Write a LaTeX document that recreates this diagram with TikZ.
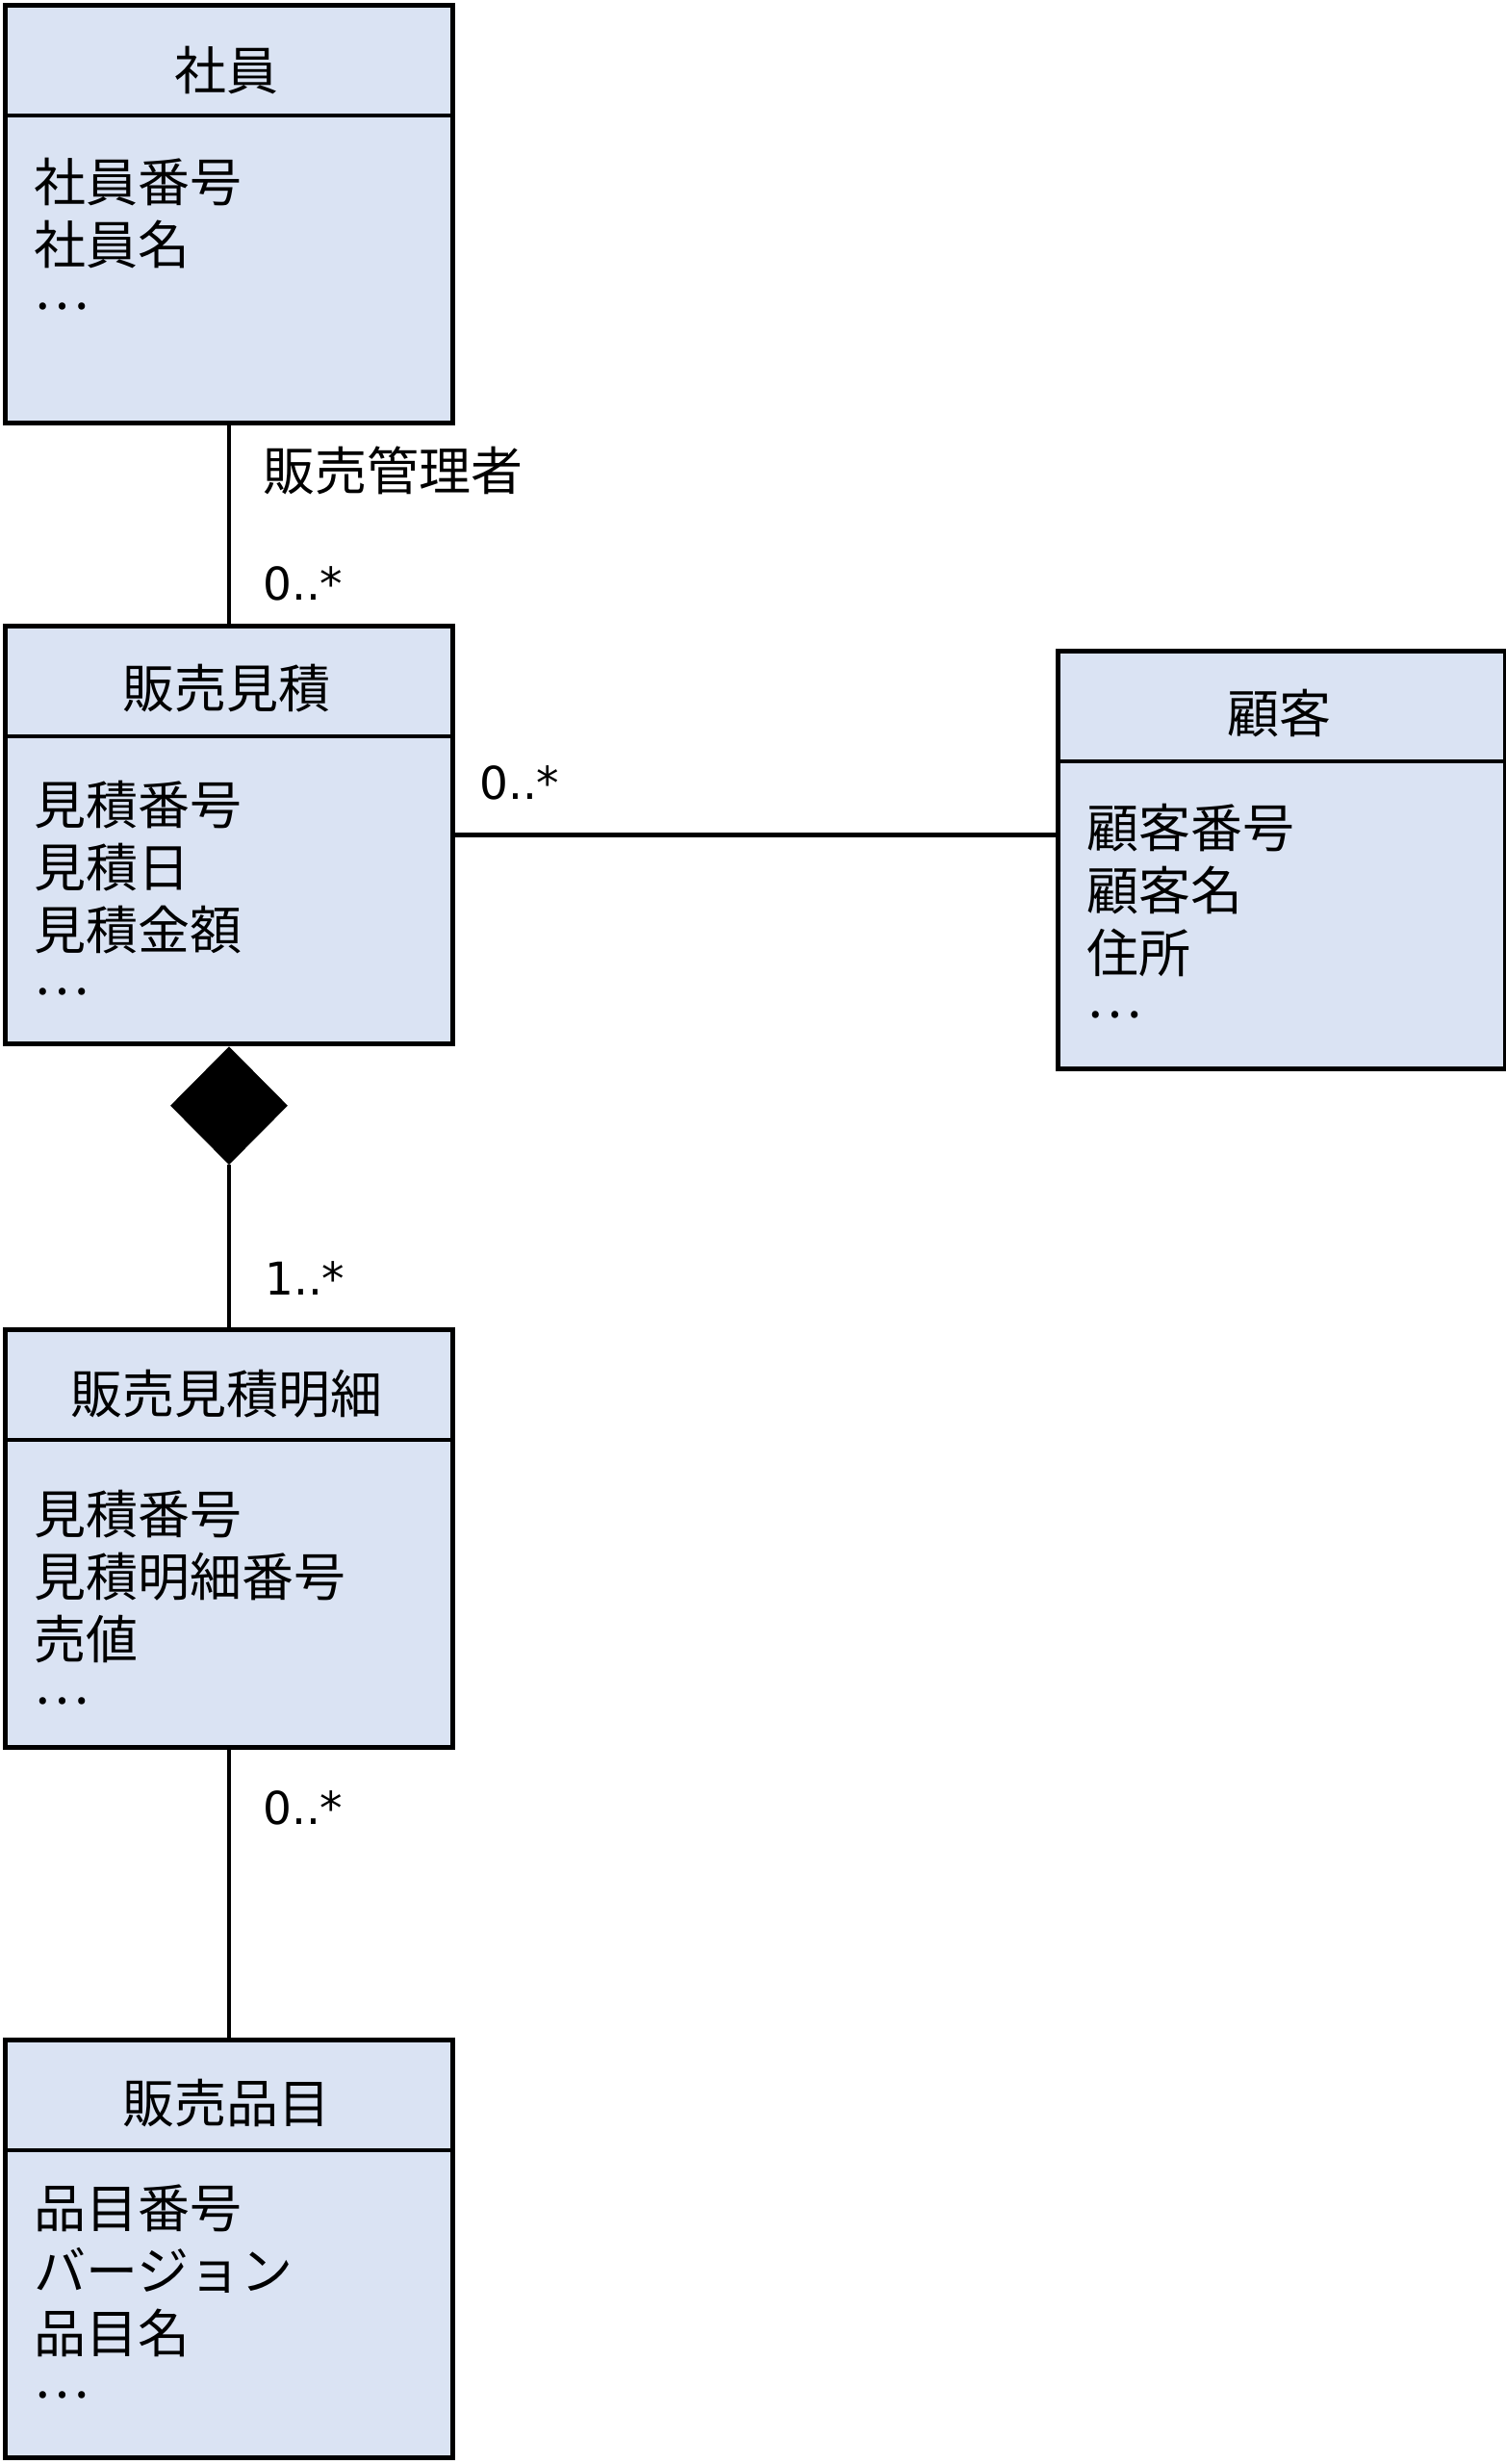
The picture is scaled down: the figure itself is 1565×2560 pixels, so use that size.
\documentclass[tikz,border=0pt]{standalone}
\usepackage{fontspec}
\setmainfont{Noto Sans CJK JP}
\newfontfamily\mulfont{DejaVu Sans}
\usetikzlibrary{shapes.geometric}
\definecolor{boxfill}{RGB}{218,227,243}
% #1 name, #2 x, #3 first baseline, #4 number of text lines, #5 lines
\newcommand\attrlist[5]{%
  \foreach \t [count=\i from 0] in {#5} {\node[attr] (#1-\i) at ({#2},{#3+65*\i}) {\t};}%
  \node[attr] (#1-dots) at ({#2},{#3+65*#4-18}) {…};%
}
\begin{document}
\begin{tikzpicture}[x=1pt,y=-1pt,
  cls/.style={rectangle, draw=black, line width=5pt, fill=boxfill, minimum width=465pt, minimum height=434pt, inner sep=0pt, anchor=north west},
  div/.style={line width=4.5pt},
  conn/.style={line width=4.5pt},
  ttl/.style={anchor=base, inner sep=0pt, font=\fontsize{54}{65}\selectfont},
  attr/.style={anchor=base west, inner sep=0pt, font=\fontsize{54}{65}\selectfont},
  mult/.style={anchor=base west, inner sep=0pt, font=\mulfont\fontsize{47}{56}\selectfont},
  lbl/.style={anchor=base west, inner sep=0pt, font=\fontsize{54}{65}\selectfont},
  comp/.style={diamond, fill=black, draw=none, inner sep=0pt, minimum width=122pt, minimum height=123pt, anchor=north}
]
\useasboundingbox (0,0) rectangle (1565,2560);

% class boxes
\node[cls] (emp) at (3,3) {};
\node[cls] (est) at (3,648) {};
\node[cls] (cust) at (1097,674) {};
\node[cls] (det) at (3,1379) {};
\node[cls] (item) at (3,2117) {};

% header dividers
\foreach \b in {emp,est,cust,det,item}{
  \draw[div] ([yshift=-117pt]\b.north west) -- ([yshift=-117pt]\b.north east);
}

% titles
\node[ttl] (emp-t) at (235.5,93) {社員};
\node[ttl] (est-t) at (235.5,735) {販売見積};
\node[ttl] (cust-t) at (1329.5,761) {顧客};
\node[ttl] (det-t) at (235.5,1468) {販売見積明細};
\node[ttl] (item-t) at (235.5,2205) {販売品目};

% attributes
\attrlist{emp-a}{35}{209}{2}{社員番号,社員名}
\attrlist{est-a}{35}{856}{3}{見積番号,見積日,見積金額}
\attrlist{cust-a}{1129}{880}{3}{顧客番号,顧客名,住所}
\attrlist{det-a}{35}{1593}{3}{見積番号,見積明細番号,売値}
\attrlist{item-a}{35}{2314}{3}{品目番号,バージョン,品目名}

% connectors
\draw[conn] (emp.south) -- (est.north);
\draw[conn] (est.east) -- (cust.west |- est.east);
\node[comp] (dia) at (est.south) {};
\draw[conn] (dia.south) -- (det.north);
\draw[conn] (det.south) -- (item.north);

% labels
\node[lbl] (role) at (273,509) {販売管理者};
\node[mult] (m1) at (273,623) {0..*};
\node[mult] (m2) at (498,830) {0..*};
\node[mult] (m3) at (275,1345) {1..*};
\node[mult] (m4) at (273,1895) {0..*};
\end{tikzpicture}
\end{document}
